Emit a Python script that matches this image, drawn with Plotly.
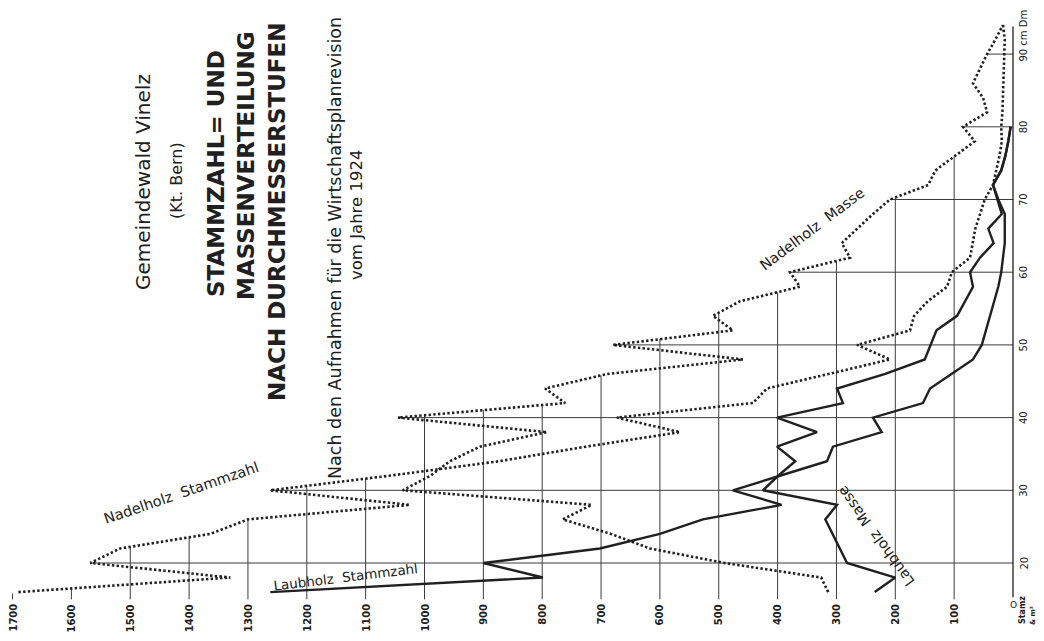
import numpy as np
import plotly.graph_objects as go

# ---------------- data ----------------
diam_nadel = list(range(16, 96, 2))
nadel_stammzahl = [1690, 1330, 1568, 1517, 1364, 1300, 1025, 1262, 1060, 873,
                   726, 566, 673, 442, 418, 314, 209, 265, 175, 168,
                   145, 112, 104, 73, 68, 64, 56, 48, 34, 28,
                   23, 19, 20, 18, 17, 16, 15, 14, 14, 17]
nadel_masse = [314, 326, 490, 617, 683, 765, 716, 1037, 990, 957,
               906, 792, 1045, 761, 795, 690, 459, 680, 476, 510,
               464, 362, 379, 277, 291, 265, 238, 209, 144, 132,
               99, 65, 85, 44, 51, 68, 56, 44, 30, 17]

diam_laub = list(range(16, 82, 2))
laub_stammzahl = [1262, 799, 900, 702, 600, 527, 393, 476, 396, 316,
                  306, 223, 238, 153, 141, 105, 68, 53, 46, 38,
                  31, 25, 20, 17, 14, 14, 14, 25, 34, 20,
                  13, 8, 4]
laub_masse = [235, 200, 282, 294, 306, 319, 299, 425, 399, 370,
              401, 333, 401, 289, 299, 217, 150, 140, 130, 95,
              82, 68, 73, 56, 33, 42, 19, 26, 34, 20,
              13, 8, 4]

value_ticks = list(range(100, 1800, 100))
value_tick_labels = [str(v) for v in value_ticks]
diam_ticks = [20, 30, 40, 50, 60, 70, 80, 90]
diam_tick_labels = ["20", "30", "40", "50", "60", "70", "80", "90 cm Dm"]

# ---------------- geometry of the (rotated) sheet ----------------
W, H = 1044, 641
OFF = 8                                   # page body margin
FW, FH = W - OFF, H - OFF                 # figure size
X0_PX, X_PER_UNIT = 1013.0, 0.5885        # value axis runs right -> left
Y20_PX, Y_PER_CM = 563.0, 7.27            # diameter axis runs bottom -> top
x_range = [(X0_PX - OFF) / X_PER_UNIT, (X0_PX - OFF - FW) / X_PER_UNIT]
y_range = [20 - (FH - (Y20_PX - OFF)) / Y_PER_CM, 20 + (Y20_PX - OFF) / Y_PER_CM]

INK = "#202020"
GRID = "#3c3c3c"
FONT = "DejaVu Sans"


def px(xp):
    return (xp - OFF) / FW


def py(yp):
    return 1 - (yp - OFF) / FH


fig = go.Figure()

# ---------------- clipped grid (drawn only under the outer curve) ----------------
fine = np.arange(16, 94.0001, 0.02)
env = np.max(np.vstack([
    np.interp(fine, diam_nadel, nadel_stammzahl),
    np.interp(fine, diam_nadel, nadel_masse),
    np.interp(fine, diam_laub, laub_stammzahl, right=0),
    np.interp(fine, diam_laub, laub_masse, right=0),
]), axis=0)

gx, gy = [], []
for d in diam_ticks:
    gx += [0, float(np.interp(d, fine, env)), None]
    gy += [d, d, None]
for v in value_ticks:
    above = fine[env >= v]
    top = float(above.max()) if above.size else 15.8
    gx += [v, v, None]
    gy += [15.0, top, None]
fig.add_trace(go.Scatter(x=gx, y=gy, mode="lines", line=dict(color=GRID, width=1),
                         hoverinfo="skip", showlegend=False))
# zero axis
fig.add_trace(go.Scatter(x=[0, 0], y=[15.3, 93.8], mode="lines",
                         line=dict(color=INK, width=1.3), hoverinfo="skip", showlegend=False))

# ---------------- curves ----------------
dot = dict(color=INK, width=2.6, dash="2.4px,2.3px")
fig.add_trace(go.Scatter(x=nadel_stammzahl, y=diam_nadel, mode="lines", line=dot,
                         name="Nadelholz Stammzahl", showlegend=False))
fig.add_trace(go.Scatter(x=nadel_masse, y=diam_nadel, mode="lines", line=dot,
                         name="Nadelholz Masse", showlegend=False))
fig.add_trace(go.Scatter(x=laub_stammzahl, y=diam_laub, mode="lines",
                         line=dict(color=INK, width=2.4), name="Laubholz Stammzahl",
                         showlegend=False))
fig.add_trace(go.Scatter(x=laub_masse, y=diam_laub, mode="lines",
                         line=dict(color=INK, width=2.4), name="Laubholz Masse",
                         showlegend=False))

ann = []
# value tick labels (bottom)
for v, lab in zip(value_ticks, value_tick_labels):
    ann.append(dict(x=v, y=py(602), xref="x", yref="paper", text="<b>%s</b>" % lab,
                    textangle=-90, showarrow=False, xanchor="center", yanchor="top",
                    font=dict(family=FONT, size=10, color=INK)))
ann.append(dict(x=0, y=py(598), xref="x", yref="paper", text="O", showarrow=False,
                xanchor="center", yanchor="top", font=dict(family=FONT, size=9, color=INK)))
ann.append(dict(x=px(1022), y=py(610), xref="paper", yref="paper", text="<b>Stamz</b>",
                textangle=-90, showarrow=False, xanchor="center", yanchor="middle",
                font=dict(family=FONT, size=8, color=INK)))
ann.append(dict(x=px(1033), y=py(616), xref="paper", yref="paper", text="<b>& m³</b>",
                textangle=-90, showarrow=False, xanchor="center", yanchor="middle",
                font=dict(family=FONT, size=7, color=INK)))

# diameter tick labels (right)
for d, lab in zip(diam_ticks, diam_tick_labels):
    if lab.startswith("90"):
        ann.append(dict(x=px(1016), y=d, xref="paper", yref="y", text=lab, textangle=-90,
                        showarrow=False, xanchor="left", yanchor="bottom", yshift=-10,
                        font=dict(family=FONT, size=10, color=INK)))
    else:
        ann.append(dict(x=px(1016), y=d, xref="paper", yref="y", text=lab, textangle=-90,
                        showarrow=False, xanchor="left", yanchor="middle",
                        font=dict(family=FONT, size=10, color=INK)))


# titles (rotated sheet)
def rot(text, xc, yc, size, weight=False, angle=-90):
    t = "<b>%s</b>" % text if weight else text
    ann.append(dict(x=px(xc), y=py(yc), xref="paper", yref="paper", text=t, textangle=angle,
                    showarrow=False, xanchor="center", yanchor="middle",
                    font=dict(family=FONT, size=size, color=INK)))


rot("Gemeindewald Vinelz", 143, 182, 20)
rot("(Kt. Bern)", 176, 181, 16)
rot("STAMMZAHL= UND", 216, 174, 23, weight=True)
rot("MASSENVERTEILUNG", 246, 166, 23, weight=True)
rot("NACH DURCHMESSERSTUFEN", 277, 212, 23, weight=True)
rot("Nach den Aufnahmen für die Wirtschaftsplanrevision", 335, 248, 17.5)
rot("vom Jahre 1924", 357, 215, 16.5)

# curve labels
rot("Nadelholz  Stammzahl", 181, 493, 14.5, angle=-19)
rot("Laubholz  Stammzahl", 345, 577, 13.5, angle=-7)
rot("Nadelholz  Masse", 812, 229, 14.5, angle=-37)
rot("Laubholz  Masse", 876, 536, 14.5, angle=-126)

fig.update_layout(
    width=FW, height=FH, margin=dict(l=0, r=0, t=0, b=0),
    paper_bgcolor="white", plot_bgcolor="white",
    xaxis=dict(range=x_range, visible=False, fixedrange=True),
    yaxis=dict(range=y_range, visible=False, fixedrange=True),
    annotations=ann, showlegend=False,
)
fig.write_html("out.html")
